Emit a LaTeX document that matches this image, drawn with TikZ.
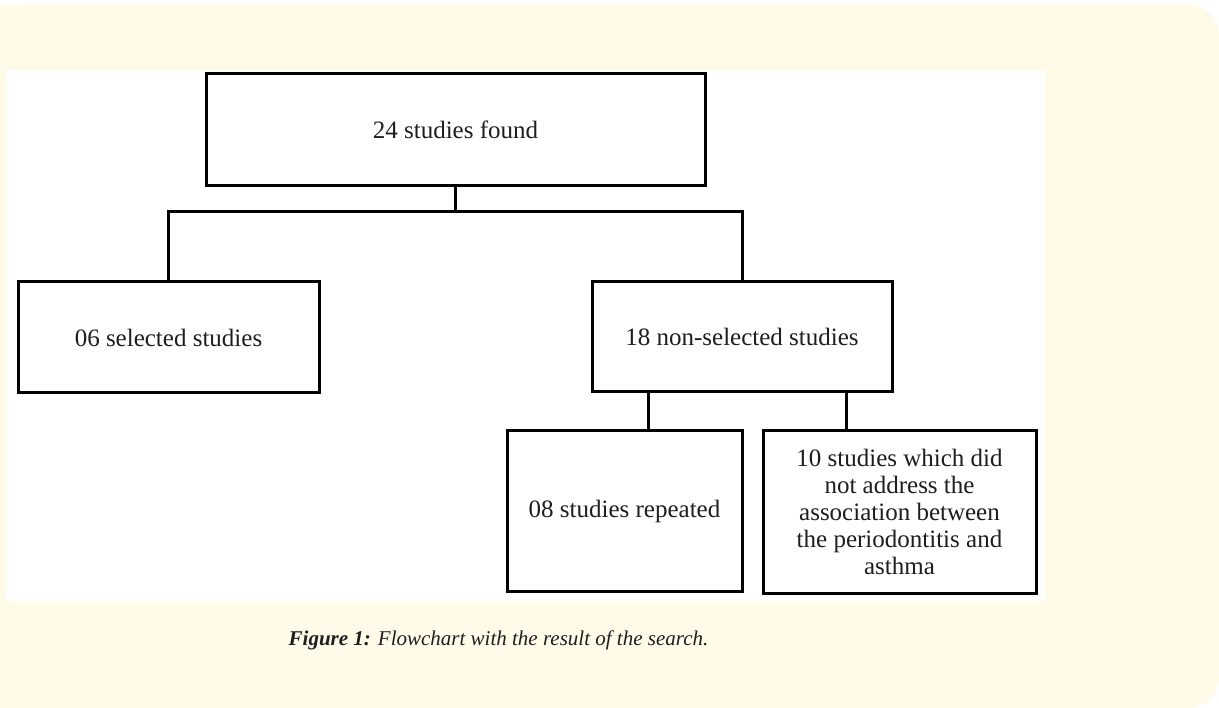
\documentclass[tikz,border=0pt]{standalone}
\usepackage{fontspec}
\setmainfont{Liberation Serif}
\definecolor{paper}{RGB}{255,251,232}
\definecolor{ink}{RGB}{30,30,30}

\begin{document}
\begin{tikzpicture}[x=1pt, y=-1pt,
    box/.style={rectangle, draw=black, line width=3pt, fill=white, text=ink,
        font=\fontsize{25}{27}\selectfont, align=center, inner sep=0pt},
    link/.style={draw=black, line width=3pt}]
    \useasboundingbox (0,0) rectangle (1219,708);
    \fill[paper, rounded corners=30pt] (0,5) rectangle (1219,708);
    \fill[paper] (0,5) rectangle (60,708);
    \fill[white] (6,70) rectangle (1045,601);

    \node[box, minimum width=499pt, minimum height=112pt] (found) at (455.5,130) {24 studies found};
    \node[box, minimum width=301pt, minimum height=111pt] (selected) at (168.5,337.5) {06 selected studies};
    \node[box, minimum width=300pt, minimum height=110pt] (nonsel) at (742,337) {18 non-selected studies};
    \node[box, minimum width=235pt, minimum height=160pt] (repeated) at (624.5,511) {08 studies repeated};
    \node[box, minimum width=273pt, minimum height=162pt] (notaddr) at (899.5,512)
        {10 studies which did\\not address the\\association between\\the periodontitis and\\asthma};

    \coordinate (split) at (455.5,212);
    \coordinate (leftdrop) at (648,0);
    \coordinate (rightdrop) at (846,0);

    \draw[link] (found.south) -- (split);
    \draw[link] (selected.north) |- (split) -| (nonsel.north);
    \draw[link] (nonsel.south -| leftdrop) -- (repeated.north -| leftdrop);
    \draw[link] (nonsel.south -| rightdrop) -- (notaddr.north -| rightdrop);

    \node[text=ink, font=\fontsize{21}{25}\selectfont\itshape] (caption) at (498.5,640)
        {\textbf{Figure 1:} Flowchart with the result of the search.};
\end{tikzpicture}
\end{document}
